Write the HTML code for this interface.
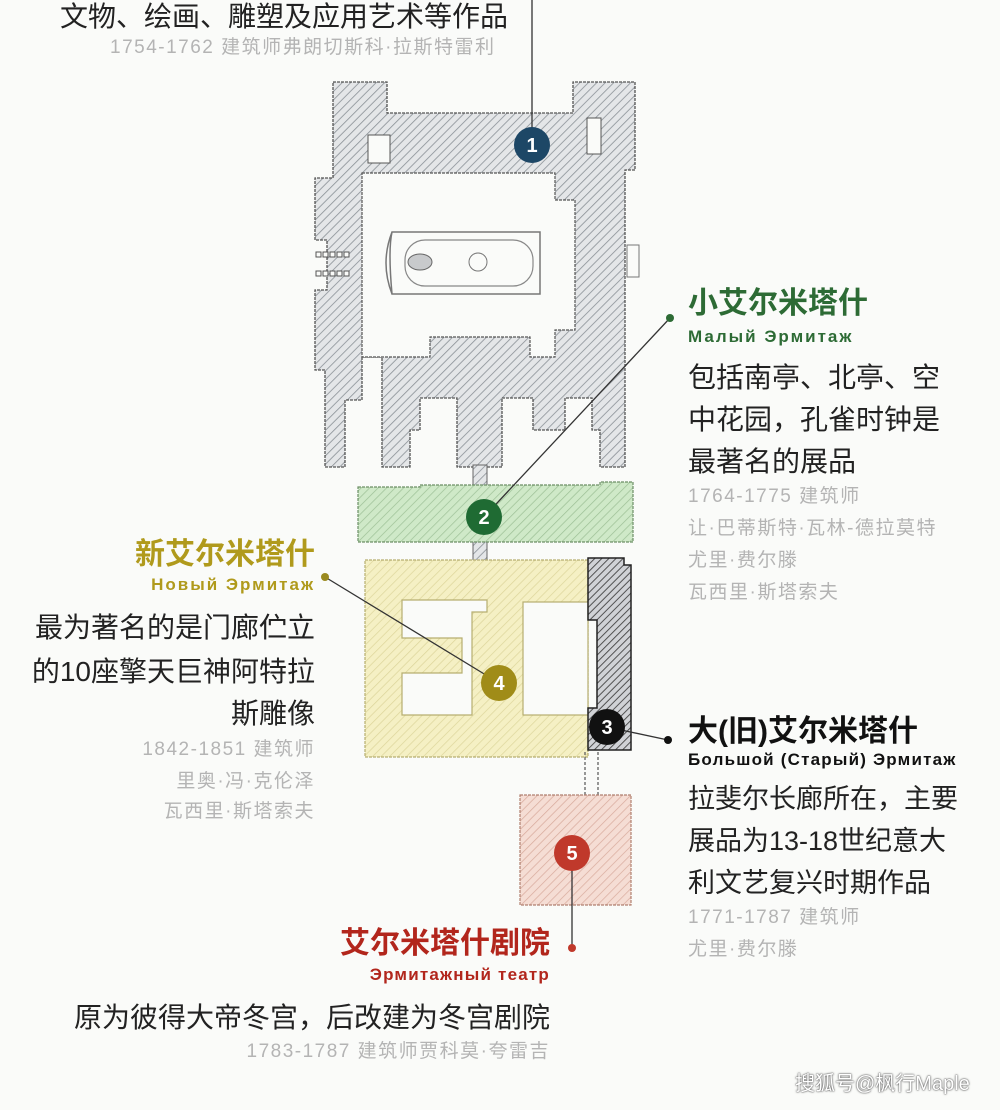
<!DOCTYPE html>
<html><head><meta charset="utf-8"><style>
body{margin:0;width:1000px;height:1110px;background:#fafbf9;position:relative;overflow:hidden;font-family:"Liberation Sans","Noto Sans CJK SC",sans-serif}
.t{position:absolute;white-space:nowrap;line-height:1}
.b{font-size:27px;color:#222}
.g{font-size:19px;color:#b4b4b4;letter-spacing:1.5px}
.h{font-size:30px;font-weight:bold}
.r{font-size:17px;font-weight:bold;letter-spacing:1.2px}
.ra{text-align:right}
svg{position:absolute;left:0;top:0}
</style></head><body>
<svg width="1000" height="1110" viewBox="0 0 1000 1110">
<defs>
<pattern id="hg" width="6" height="6" patternUnits="userSpaceOnUse" patternTransform="rotate(45)"><rect width="6" height="6" fill="#e4e6e8"/><line x1="0" y1="0" x2="0" y2="6" stroke="#8a9096" stroke-width="1.6"/></pattern>
<pattern id="hgr" width="6" height="6" patternUnits="userSpaceOnUse" patternTransform="rotate(45)"><rect width="6" height="6" fill="#cfe9c8"/><line x1="0" y1="0" x2="0" y2="6" stroke="#9cbf95" stroke-width="1.4"/></pattern>
<pattern id="hy" width="6" height="6" patternUnits="userSpaceOnUse" patternTransform="rotate(45)"><rect width="6" height="6" fill="#f5f0c4"/><line x1="0" y1="0" x2="0" y2="6" stroke="#dcd59a" stroke-width="1.4"/></pattern>
<pattern id="hd" width="5" height="5" patternUnits="userSpaceOnUse" patternTransform="rotate(45)"><rect width="5" height="5" fill="#d0d2d6"/><line x1="0" y1="0" x2="0" y2="5" stroke="#444" stroke-width="1.8"/></pattern>
<pattern id="hr" width="6" height="6" patternUnits="userSpaceOnUse" patternTransform="rotate(45)"><rect width="6" height="6" fill="#f5ddd4"/><line x1="0" y1="0" x2="0" y2="6" stroke="#d8aa9c" stroke-width="1.4"/></pattern>
</defs>
<path d="M333 82 H387 V113 H573 V82 H635 V170 H625 V467 H600 V430 H592 V398 H565 V430 H533 V398 H502 V467 H457 V398 H420 V430 H410 V467 H382 V357 H362 V400 H345 V467 H325 V370 H315 V290 H327 V240 H315 V178 H333 Z" fill="url(#hg)" stroke="#555" stroke-width="1.3" stroke-dasharray="3 1"/>
<path d="M362 173 H555 V200 H575 V330 H555 V357 H530 V337 H430 V357 H362 Z" fill="#fafbf9" stroke="#555" stroke-width="1.2" stroke-dasharray="3 1"/>
<rect x="368" y="135" width="22" height="28" fill="#fafbf9" stroke="#555"/>
<rect x="587" y="118" width="14" height="36" fill="#fafbf9" stroke="#555"/>
<path d="M392 232 H540 V294 H392 Q388 250 392 232 Z M392 232 Q380 263 392 294" fill="none" stroke="#777" stroke-width="1.5"/>
<rect x="405" y="240" width="128" height="46" rx="20" fill="none" stroke="#888" stroke-width="1.2"/>
<ellipse cx="420" cy="262" rx="12" ry="8" fill="#c8cacc" stroke="#666"/>
<circle cx="478" cy="262" r="9" fill="none" stroke="#777"/>
<g fill="#fafbf9" stroke="#555" stroke-width="1"><rect x="316" y="252" width="5" height="5"/><rect x="323" y="252" width="5" height="5"/><rect x="330" y="252" width="5" height="5"/><rect x="337" y="252" width="5" height="5"/><rect x="344" y="252" width="5" height="5"/><rect x="316" y="271" width="5" height="5"/><rect x="323" y="271" width="5" height="5"/><rect x="330" y="271" width="5" height="5"/><rect x="337" y="271" width="5" height="5"/><rect x="344" y="271" width="5" height="5"/></g>
<rect x="627" y="245" width="12" height="32" fill="none" stroke="#777"/>
<rect x="473" y="465" width="14" height="22" fill="url(#hg)" stroke="#666"/>
<rect x="473" y="540" width="14" height="22" fill="url(#hg)" stroke="#666"/>
<path d="M358 487 H420 V485 H600 V482 H633 V542 H358 Z" fill="url(#hgr)" stroke="#6c8f66" stroke-width="1.2" stroke-dasharray="3 1"/>
<path d="M365 560 H588 V757 H365 Z" fill="url(#hy)" stroke="#b6ae70" stroke-width="1.2" stroke-dasharray="3 1"/>
<path d="M402 600 H487 V612 H472 V715 H402 V673 H462 V638 H402 Z" fill="#fafbf9" stroke="#b6ae70" stroke-width="1.2"/>
<rect x="523" y="602" width="65" height="113" fill="#fafbf9" stroke="#b6ae70" stroke-width="1.2"/>
<path d="M588 558 H624 V565 H631 V750 H588 V708 H597 V620 H588 Z" fill="url(#hd)" stroke="#222" stroke-width="1.5"/>
<g stroke="#555" stroke-width="1.2" stroke-dasharray="3 2"><line x1="585" y1="752" x2="585" y2="795"/><line x1="598" y1="752" x2="598" y2="795"/></g>
<rect x="520" y="795" width="111" height="110" fill="url(#hr)" stroke="#b08070" stroke-width="1.2" stroke-dasharray="3 1"/>
<g stroke="#333" stroke-width="1.3" fill="none">
<line x1="532" y1="0" x2="532" y2="140"/>
<line x1="484" y1="517" x2="670" y2="318"/>
<line x1="325" y1="577" x2="499" y2="683"/>
<line x1="607" y1="727" x2="668" y2="740"/>
<line x1="572" y1="853" x2="572" y2="948"/>
</g>
<circle cx="670" cy="318" r="4" fill="#2d6b35"/>
<circle cx="325" cy="577" r="4" fill="#9a8a20"/>
<circle cx="668" cy="740" r="4" fill="#111"/>
<circle cx="572" cy="948" r="4" fill="#c0392b"/>
<g font-family="Liberation Sans,sans-serif" font-weight="bold" font-size="20" fill="#fff" text-anchor="middle">
<circle cx="532" cy="145" r="18" fill="#1d4766"/><text x="532" y="152">1</text>
<circle cx="484" cy="517" r="18" fill="#1f6b33"/><text x="484" y="524">2</text>
<circle cx="607" cy="727" r="18" fill="#111"/><text x="607" y="734">3</text>
<circle cx="499" cy="683" r="18" fill="#a08c18"/><text x="499" y="690">4</text>
<circle cx="572" cy="853" r="18" fill="#c0392b"/><text x="572" y="860">5</text>
</g>
</svg>
<div class="t b" style="left:60px;top:3px;font-size:28px">文物、绘画、雕塑及应用艺术等作品</div>
<div class="t g" style="left:110px;top:38px">1754-1762 建筑师弗朗切斯科·拉斯特雷利</div>

<div class="t h" style="left:688px;top:289px;color:#2d6b35">小艾尔米塔什</div>
<div class="t r" style="left:688px;top:328px;color:#2d6b35;letter-spacing:2px">Малый Эрмитаж</div>
<div class="t b" style="left:688px;top:364px;font-size:28px">包括南亭、北亭、空</div>
<div class="t b" style="left:688px;top:406px;font-size:28px">中花园，孔雀时钟是</div>
<div class="t b" style="left:688px;top:448px;font-size:28px">最著名的展品</div>
<div class="t g" style="left:688px;top:487px">1764-1775 建筑师</div>
<div class="t g" style="left:688px;top:519px">让·巴蒂斯特·瓦林-德拉莫特</div>
<div class="t g" style="left:688px;top:551px">尤里·费尔滕</div>
<div class="t g" style="left:688px;top:583px">瓦西里·斯塔索夫</div>

<div class="t h ra" style="right:685px;top:540px;color:#b09a1c">新艾尔米塔什</div>
<div class="t r ra" style="right:685px;top:576px;color:#b09a1c;letter-spacing:2px">Новый Эрмитаж</div>
<div class="t b ra" style="right:685px;top:614px;font-size:28px">最为著名的是门廊伫立</div>
<div class="t b ra" style="right:685px;top:658px;font-size:28px">的10座擎天巨神阿特拉</div>
<div class="t b ra" style="right:685px;top:700px;font-size:28px">斯雕像</div>
<div class="t g ra" style="right:685px;top:740px">1842-1851 建筑师</div>
<div class="t g ra" style="right:685px;top:772px">里奥·冯·克伦泽</div>
<div class="t g ra" style="right:685px;top:802px">瓦西里·斯塔索夫</div>

<div class="t h" style="left:688px;top:717px;color:#111">大(旧)艾尔米塔什</div>
<div class="t r" style="left:688px;top:751px;color:#111">Большой (Старый) Эрмитаж</div>
<div class="t b" style="left:688px;top:786px">拉斐尔长廊所在，主要</div>
<div class="t b" style="left:688px;top:828px">展品为13-18世纪意大</div>
<div class="t b" style="left:688px;top:870px">利文艺复兴时期作品</div>
<div class="t g" style="left:688px;top:908px">1771-1787 建筑师</div>
<div class="t g" style="left:688px;top:940px">尤里·费尔滕</div>

<div class="t h ra" style="right:450px;top:929px;color:#b2261c">艾尔米塔什剧院</div>
<div class="t r ra" style="right:450px;top:966px;color:#b2261c">Эрмитажный театр</div>
<div class="t b ra" style="right:450px;top:1004px;font-size:28px">原为彼得大帝冬宫，后改建为冬宫剧院</div>
<div class="t g ra" style="right:450px;top:1042px">1783-1787 建筑师贾科莫·夸雷吉</div>

<div class="t" style="left:795px;top:1074px;font-size:20px;color:#fff;text-shadow:0 0 2px #555,0 0 1px #333">搜狐号@枫行Maple</div>
</body></html>
